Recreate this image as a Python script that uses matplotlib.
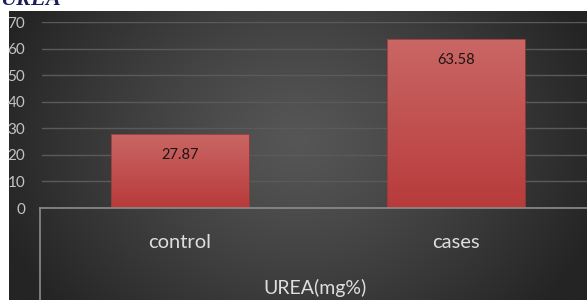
import numpy as np
import matplotlib.pyplot as plt
from matplotlib.patches import Rectangle
from matplotlib.lines import Line2D

categories = ['control', 'cases']
values = [27.87, 63.58]
value_labels = ['27.87', '63.58']
yticks = [0, 10, 20, 30, 40, 50, 60, 70]
axis_title = 'UREA(mg%)'
heading = 'UREA'

W, H = 587, 300
fig = plt.figure(figsize=(W / 100, H / 100), dpi=100, facecolor='white')
font = ['Lato', 'DejaVu Sans']

# dark panel with soft radial gradient
bg = fig.add_axes([9 / W, 0, (W - 9) / W, (H - 11) / H])
bg.set_axis_off()
gx, gy = np.meshgrid(np.linspace(0, 1, 300), np.linspace(0, 1, 200))
r = np.sqrt(((gx - 0.5) / 0.55) ** 2 + ((gy - 0.45) / 0.9) ** 2)
r = np.clip(r, 0, 1)
lev = (0x56 - (0x56 - 0x24) * r ** 1.2) / 255
img = np.dstack([lev, lev, lev])
bg.imshow(img, aspect='auto', extent=[0, 1, 0, 1], interpolation='bilinear')
bg.set_xlim(0, 1)
bg.set_ylim(0, 1)

# main plot area
ax = fig.add_axes([42 / W, (H - 208) / H, 552 / W, (208 - 22) / H])
ax.set_facecolor('none')
x = np.arange(len(categories))
bars = ax.bar(x, values, width=0.5, color='none', edgecolor='none', zorder=3)

grad = np.linspace(0, 1, 100).reshape(-1, 1)
top_c = np.array([0xc9, 0x67, 0x65]) / 255
bot_c = np.array([0xb8, 0x3b, 0x3b]) / 255
bar_img = top_c * (1 - grad[..., None]) + bot_c * grad[..., None]
for b in bars:
    bx, bw, bh = b.get_x(), b.get_width(), b.get_height()
    im = ax.imshow(bar_img, aspect='auto', extent=[bx, bx + bw, 0, bh],
                   zorder=3, interpolation='bilinear')
    im.set_clip_path(b)
    ax.add_patch(Rectangle((bx, 0), bw, bh, fill=False, edgecolor='#9a3a38',
                           linewidth=0.6, zorder=4))

for xi, v, lab in zip(x, values, value_labels):
    ax.annotate(lab, (xi, v), xytext=(0, -15), textcoords='offset points',
                ha='center', va='center', fontsize=10.5, color='#1e1414',
                family=font, zorder=5)

ax.set_xlim(-0.5, 1.5)
ax.set_ylim(0, 70)
ax.set_yticks(yticks)
ax.set_yticklabels([str(t) for t in yticks], color='#c4c4c4', fontsize=11,
                   family=font)
ax.tick_params(axis='y', length=0, pad=12)
ax.set_xticks([])
ax.grid(axis='y', color='#5a5a5a', linewidth=1)
ax.set_axisbelow(True)
for s in ax.spines.values():
    s.set_visible(False)

# category box below the axis
fig.add_artist(Line2D([40 / W, 1], [(H - 208) / H] * 2, color='#8c8c8c', linewidth=1.2))
fig.add_artist(Line2D([40 / W] * 2, [0, (H - 208) / H], color='#8c8c8c', linewidth=1.2))

for xi, c in zip(x, categories):
    px = (42 + 276 * (xi + 0.5)) / W
    fig.text(px, (H - 242) / H, c, ha='center', va='center', fontsize=14.5,
             color='#dedede', family=font)
fig.text(315 / W, (H - 288) / H, axis_title, ha='center', va='center',
         fontsize=14, color='#dedede', family=font)

fig.text(0, (H - 5) / H, heading, ha='left', va='baseline', fontsize=16,
         color='#1c1c5c', family='Liberation Serif', weight='bold', style='italic')

fig.savefig('out.png', dpi=100, facecolor='white')
